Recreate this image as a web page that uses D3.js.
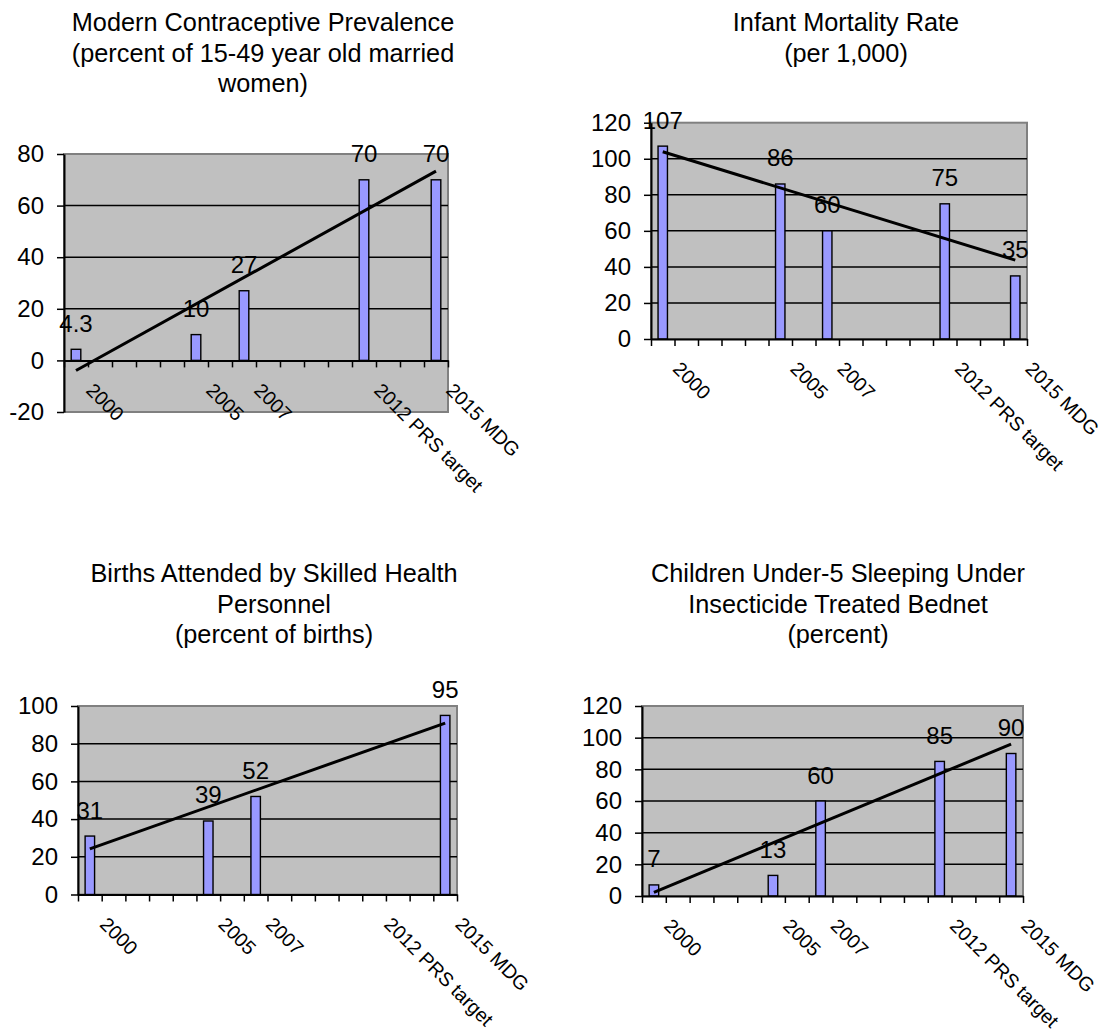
<!DOCTYPE html>
<html>
<head>
<meta charset="utf-8">
<script src="https://cdn.jsdelivr.net/npm/d3@7"></script>
<style>
  html, body { margin: 0; padding: 0; background: #ffffff; }
  svg { display: block; font-family: "Liberation Sans", Arial, sans-serif; }
</style>
</head>
<body>
<svg id="chart" width="1107" height="1032"></svg>
<script>
// Sixteen yearly slots 2000..2015; only the survey and target years carry a label.
const categoryLabels = ["2000", "", "", "", "", "2005", "", "2007", "", "", "", "", "2012 PRS target", "", "", "2015 MDG"];

// Indicator values per slot (null where no figure exists).
const contraceptiveValues = [4.3, null, null, null, null, 10, null, 27, null, null, null, null, 70, null, null, 70];
const mortalityValues     = [107, null, null, null, null, 86, null, 60, null, null, null, null, 75, null, null, 35];
const birthsValues        = [31, null, null, null, null, 39, null, 52, null, null, null, null, null, null, null, 95];
const bednetValues        = [7, null, null, null, null, 13, null, 60, null, null, null, null, 85, null, null, 90];

// Panel titles, one entry per line.
const contraceptiveTitle = ["Modern Contraceptive Prevalence", "(percent of 15-49 year old married", "women)"];
const mortalityTitle     = ["Infant Mortality Rate", "(per 1,000)"];
const birthsTitle        = ["Births Attended by Skilled Health", "Personnel", "(percent of births)"];
const bednetTitle        = ["Children Under-5 Sleeping Under", "Insecticide Treated Bednet", "(percent)"];

// Value-axis tick labels.
const contraceptiveTicks = [-20, 0, 20, 40, 60, 80];
const mortalityTicks     = [0, 20, 40, 60, 80, 100, 120];
const birthsTicks        = [0, 20, 40, 60, 80, 100];
const bednetTicks        = [0, 20, 40, 60, 80, 100, 120];

// Panel placement on the page.
const panels = [
  { title: contraceptiveTitle, values: contraceptiveValues, ticks: contraceptiveTicks,
    plot: { x0: 64, x1: 448, y0: 154, y1: 412 }, titleX: 263, titleY: 31 },
  { title: mortalityTitle, values: mortalityValues, ticks: mortalityTicks,
    plot: { x0: 651, x1: 1027, y0: 122.7, y1: 339 }, titleX: 846, titleY: 31 },
  { title: birthsTitle, values: birthsValues, ticks: birthsTicks,
    plot: { x0: 78, x1: 457, y0: 706, y1: 894.5 }, titleX: 274, titleY: 582 },
  { title: bednetTitle, values: bednetValues, ticks: bednetTicks,
    plot: { x0: 642, x1: 1023, y0: 706, y1: 896 }, titleX: 838, titleY: 582 }
];

const svg = d3.select("#chart");

// Ordinary least-squares line through the points that have values.
function linearFit(values) {
  const pts = values.map((v, i) => [i, v]).filter(p => p[1] != null);
  const mx = d3.mean(pts, p => p[0]);
  const my = d3.mean(pts, p => p[1]);
  const sxy = d3.sum(pts, p => (p[0] - mx) * (p[1] - my));
  const sxx = d3.sum(pts, p => (p[0] - mx) * (p[0] - mx));
  const slope = sxy / sxx;
  const intercept = my - slope * mx;
  const first = d3.min(pts, p => p[0]);
  const last = d3.max(pts, p => p[0]);
  return [first, last].map(i => [i, intercept + slope * i]);
}

panels.forEach(panel => {
  const { x0, x1, y0, y1 } = panel.plot;
  const g = svg.append("g");

  const x = d3.scaleBand()
    .domain(d3.range(categoryLabels.length))
    .range([x0, x1]);
  const edges = d3.scaleLinear()
    .domain([0, categoryLabels.length])
    .range([x0, x1]);
  const y = d3.scaleLinear()
    .domain(d3.extent(panel.ticks))
    .range([y1, y0]);
  const bw = x.bandwidth();
  const cx = i => x(i) + bw / 2;

  // Title
  const title = g.append("text")
    .attr("x", panel.titleX)
    .attr("y", panel.titleY)
    .attr("text-anchor", "middle")
    .attr("font-size", 25.3)
    .attr("fill", "#000");
  panel.title.forEach((line, k) => {
    title.append("tspan")
      .attr("x", panel.titleX)
      .attr("dy", k === 0 ? 0 : 30.6)
      .text(line);
  });

  // Plot area
  g.append("rect")
    .attr("x", x0).attr("y", y0)
    .attr("width", x1 - x0).attr("height", y1 - y0)
    .attr("fill", "#c0c0c0")
    .attr("stroke", "#808080")
    .attr("stroke-width", 2);

  // Gridlines
  const [tMin, tMax] = d3.extent(panel.ticks);
  g.append("g")
    .selectAll("line")
    .data(panel.ticks.filter(t => t !== tMin && t !== tMax && t !== 0))
    .join("line")
    .attr("x1", x0).attr("x2", x1)
    .attr("y1", d => y(d)).attr("y2", d => y(d))
    .attr("stroke", "#000")
    .attr("stroke-width", 1.5);

  // Value axis (plain hyphen for negatives)
  const yAxis = g.append("g")
    .attr("transform", `translate(${x0},0)`)
    .call(d3.axisLeft(y)
      .tickValues(panel.ticks)
      .tickSize(7)
      .tickSizeOuter(0)
      .tickPadding(13)
      .tickFormat(d => String(d)));
  yAxis.select(".domain").attr("stroke", "#000").attr("stroke-width", 2);
  yAxis.selectAll(".tick line").attr("stroke", "#000").attr("stroke-width", 1.5);
  yAxis.selectAll(".tick text")
    .attr("font-size", 24)
    .attr("font-family", "Liberation Sans, Arial, sans-serif")
    .attr("fill", "#000");

  // Bars
  g.append("g")
    .selectAll("rect")
    .data(panel.values.map((v, i) => ({ i, v })).filter(d => d.v != null))
    .join("rect")
    .attr("x", d => cx(d.i) - bw * 0.2)
    .attr("width", bw * 0.4)
    .attr("y", d => y(Math.max(d.v, 0)))
    .attr("height", d => Math.abs(y(d.v) - y(0)))
    .attr("fill", "#9999ff")
    .attr("stroke", "#000")
    .attr("stroke-width", 1.4);

  // Category axis, crossing at zero, with ticks between slots
  const xAxis = g.append("g")
    .attr("transform", `translate(0,${y(0)})`)
    .call(d3.axisBottom(edges)
      .tickValues(d3.range(categoryLabels.length + 1))
      .tickSize(7)
      .tickSizeOuter(0)
      .tickFormat(""));
  xAxis.select(".domain").attr("stroke", "#000").attr("stroke-width", 2);
  xAxis.selectAll(".tick line").attr("stroke", "#000").attr("stroke-width", 1.5);

  // Rotated category labels
  g.append("g")
    .selectAll("text")
    .data(categoryLabels.map((label, i) => ({ label, i })).filter(d => d.label !== ""))
    .join("text")
    .attr("transform", d => `translate(${cx(d.i) + 9},${y(0) + 31}) rotate(45)`)
    .attr("font-size", 19.5)
    .attr("fill", "#000")
    .text(d => d.label);

  // Linear trend line
  const fit = linearFit(panel.values);
  g.append("path")
    .datum(fit)
    .attr("d", d3.line().x(d => cx(d[0])).y(d => y(d[1])))
    .attr("fill", "none")
    .attr("stroke", "#000")
    .attr("stroke-width", 3);

  // Value labels above bars
  g.append("g")
    .selectAll("text")
    .data(panel.values.map((v, i) => ({ i, v })).filter(d => d.v != null))
    .join("text")
    .attr("x", d => cx(d.i))
    .attr("y", d => y(d.v) - 17.5)
    .attr("text-anchor", "middle")
    .attr("font-size", 24)
    .attr("fill", "#000")
    .text(d => String(d.v));
});
</script>
</body>
</html>
